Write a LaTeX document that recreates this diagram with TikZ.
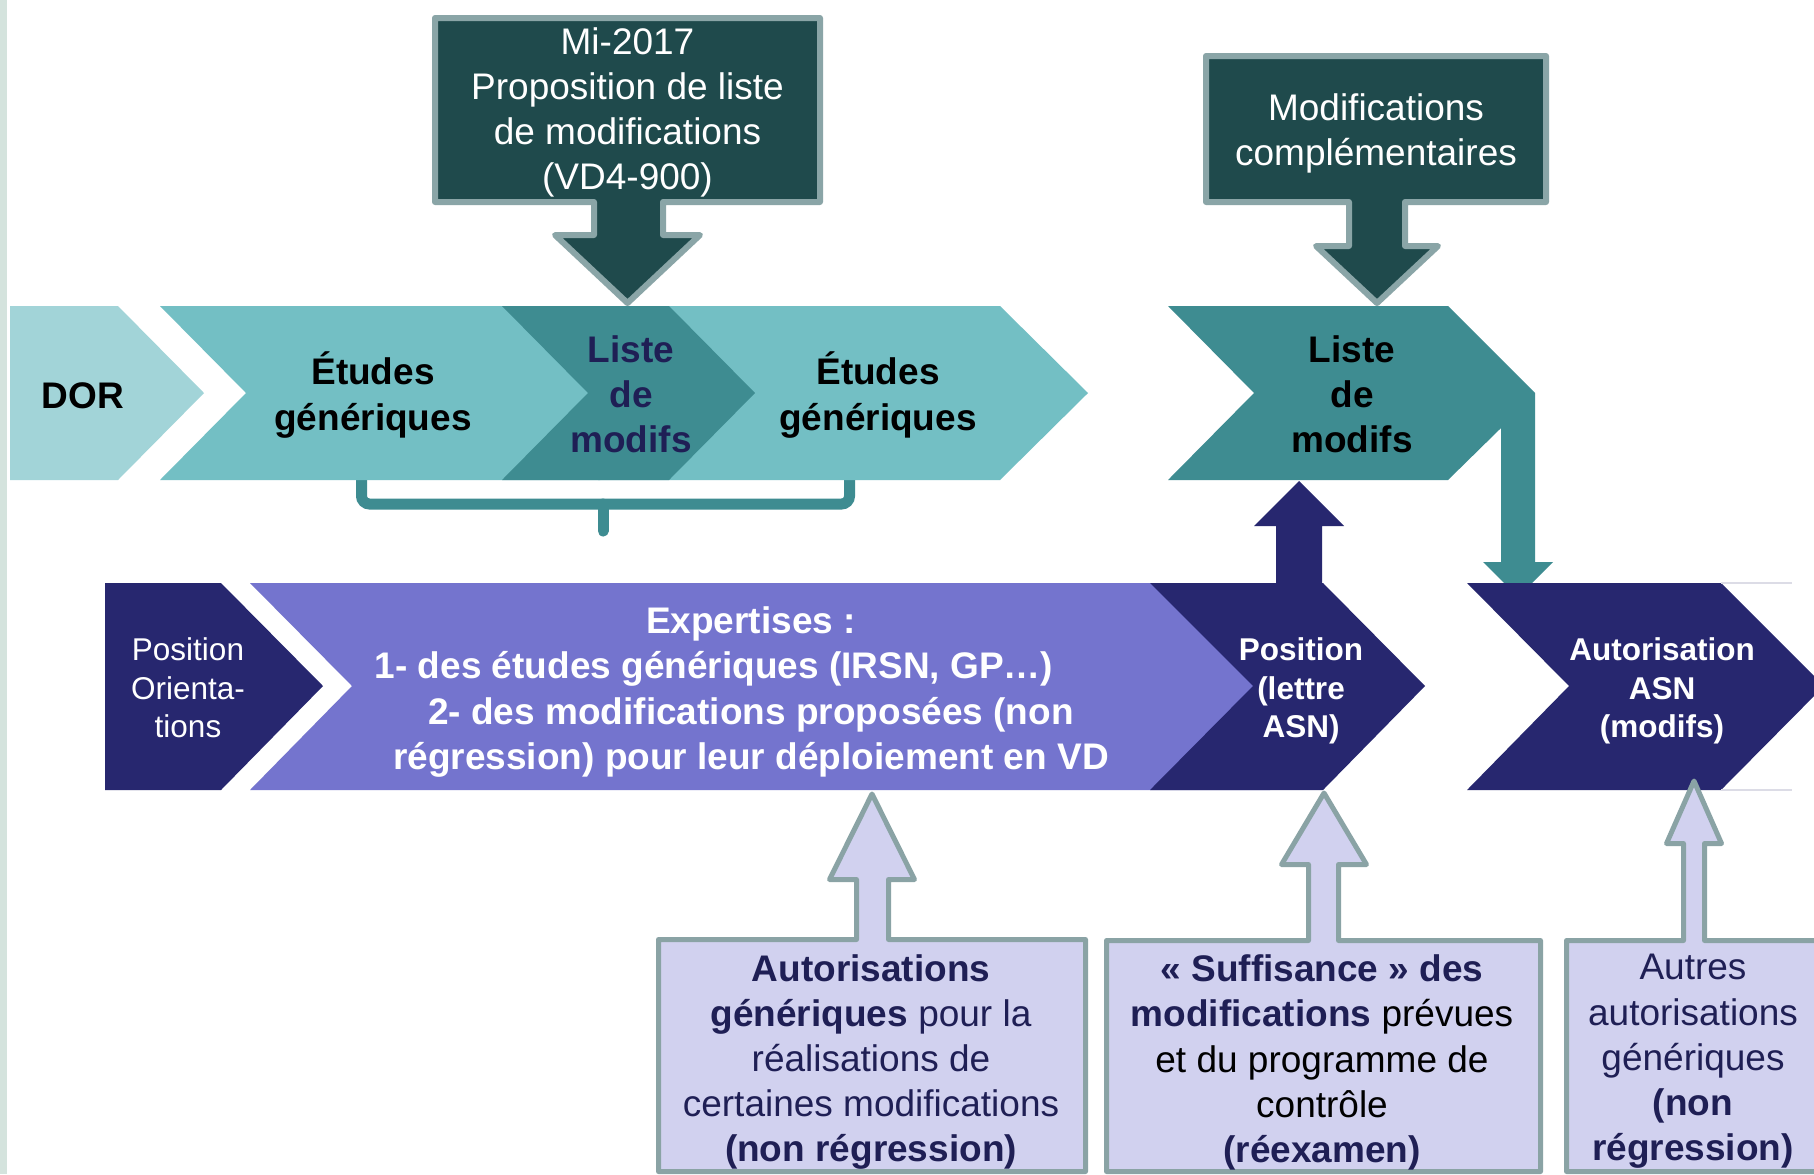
\documentclass[tikz,border=0pt]{standalone}
\usepackage{fontspec}
\setmainfont{Liberation Sans}
\definecolor{cdor}{HTML}{A2D4D8}
\definecolor{cetu}{HTML}{73BFC4}
\definecolor{clst}{HTML}{3E8C91}
\definecolor{cdk}{HTML}{1F4A4C}
\definecolor{cdkb}{HTML}{8AA5A7}
\definecolor{cnavy}{HTML}{27276F}
\definecolor{cpurp}{HTML}{7474CE}
\definecolor{clav}{HTML}{D1D1EF}
\definecolor{clavb}{HTML}{8AA3A5}
\definecolor{ctnavy}{HTML}{1F1F55}
\definecolor{cstrip}{HTML}{D4E3DD}
\definecolor{cfaint}{HTML}{DCDCE6}
\tikzset{
  txt/.style={align=center, inner sep=0pt, font=\fontsize{18.5}{22.6}\selectfont},
  txtb/.style={align=center, inner sep=0pt, font=\fontsize{18.5}{22.6}\selectfont\bfseries},
  txts/.style={align=center, inner sep=0pt, font=\fontsize{15.75}{19.25}\selectfont},
  txtsb/.style={align=center, inner sep=0pt, font=\fontsize{15.75}{19.25}\selectfont\bfseries},
  darkbox/.style={fill=cdk, draw=cdkb, line width=3pt, line join=round},
  lavbox/.style={fill=clav, draw=clavb, line width=2.5pt, line join=round},
}
\begin{document}
\begin{tikzpicture}[x=0.5pt,y=-0.5pt]
\useasboundingbox (0,0) rectangle (1814,1174);
\clip (0,0) rectangle (1814,1174);
\fill[white] (0,0) rectangle (1814,1174);
\fill[cstrip] (0,0) rectangle (7,1174);

% bracket
\draw[clst, line width=5.5pt, rounded corners=4pt] (361.5,470) -- (361.5,504) -- (849.5,504) -- (849.5,470);
\draw[clst, line width=5.5pt, line cap=round] (603,504) -- (603,531);

% top row chevrons
\fill[cdor] (10,306) -- (118,306) -- (204,393) -- (118,480) -- (10,480) -- cycle;
\fill[cetu] (160,306) -- (600,306) -- (600,480) -- (160,480) -- (246,393) -- cycle;
\fill[cetu] (598,306) -- (1000,306) -- (1088,393) -- (1000,480) -- (598,480) -- cycle;
\fill[clst] (502,306) -- (669,306) -- (755,393) -- (669,480) -- (502,480) -- (588,393) -- cycle;
\fill[clst] (1168,306) -- (1448,306) -- (1535,393) -- (1535,562) -- (1553,562) -- (1518,597)
  -- (1483,562) -- (1501,562) -- (1501,428) -- (1448,480) -- (1168,480) -- (1254,393) -- cycle;

% top boxes with arrows
\path[darkbox] (435,18) -- (820,18) -- (820,202) -- (663,202) -- (663,235) -- (700,235) -- (627.5,303)
  -- (555,235) -- (594,235) -- (594,202) -- (435,202) -- cycle;
\path[darkbox] (1206,56) -- (1546,56) -- (1546,202) -- (1405,202) -- (1405,246) -- (1438,246) -- (1377,303)
  -- (1316,246) -- (1349,246) -- (1349,202) -- (1206,202) -- cycle;

% bottom row chevrons
\fill[cnavy] (1276,590) -- (1276,526) -- (1254,526) -- (1299,481) -- (1344,526) -- (1322,526) -- (1322,590) -- cycle;
\fill[cnavy] (105,583) -- (221,583) -- (323,686) -- (221,790) -- (105,790) -- cycle;
\fill[cpurp] (250,583) -- (1270,583) -- (1270,790) -- (250,790) -- (352,686) -- cycle;
\fill[cnavy] (1150,583) -- (1323,583) -- (1425,686) -- (1323,790) -- (1150,790) -- (1253,686) -- cycle;
\fill[cnavy] (1467,583) -- (1721,583) -- (1824,686) -- (1721,790) -- (1467,790) -- (1569,686) -- cycle;
\draw[cfaint, line width=0.8pt] (1721,583) -- (1792,583) (1721,790) -- (1792,790);

% bottom boxes with arrows
\path[lavbox] (658.5,939.5) -- (856.5,939.5) -- (856.5,879.5) -- (829.5,879.5) -- (872,794) -- (914.5,879.5)
  -- (888.5,879.5) -- (888.5,939.5) -- (1085.5,939.5) -- (1085.5,1171.5) -- (658.5,1171.5) -- cycle;
\path[lavbox] (1106.5,940.5) -- (1308.5,940.5) -- (1308.5,864.5) -- (1281.5,864.5) -- (1324,793) -- (1366.5,864.5)
  -- (1338.5,864.5) -- (1338.5,940.5) -- (1540.5,940.5) -- (1540.5,1171.5) -- (1106.5,1171.5) -- cycle;
\path[lavbox] (1566.5,940.5) -- (1683.5,940.5) -- (1683.5,843.5) -- (1666.5,843.5) -- (1694,781) -- (1721.5,843.5)
  -- (1704.5,843.5) -- (1704.5,940.5) -- (1830,940.5) -- (1830,1171.5) -- (1566.5,1171.5) -- cycle;

% texts
\node[txt, text=white] (t1) at (627.5,112.5) {Mi-2017\\Proposition de liste\\de modifications\\(VD4-900)};
\node[txt, text=white] (t2) at (1376,133.5) {Modifications\\complémentaires};
\node[txtb] (dor) at (83,395.5) {DOR};
\node[txtb] (e1) at (373,395) {Études\\génériques};
\node[txtb, text=ctnavy] (l1) at (631,394) {Liste\\de\\modifs};
\node[txtb] (e2) at (878,395) {Études\\génériques};
\node[txtb] (l2) at (1352,394) {Liste\\de\\modifs};
\node[txts, text=white] (po) at (188,688) {Position\\Orienta-\\tions};
\node[txtb, text=white] (ex) at (751,692) {Expertises :\\1- des études génériques (IRSN, GP…)\hspace{37pt}\mbox{}\\2- des modifications proposées (non\\régression) pour leur déploiement en VD};
\node[txtsb, text=white] (pl) at (1301,691) {Position\\(lettre\\ASN)};
\node[txtsb, text=white] (aa) at (1662,691) {Autorisation\\ASN\\(modifs)};
\node[txt, text=ctnavy] (ba) at (871,1062) {\textbf{Autorisations}\\\textbf{génériques} pour la\\réalisations de\\certaines modifications\\\textbf{(non régression)}};
\node[txt, text=black] (bb) at (1322,1062.5) {\textcolor{ctnavy}{\bfseries « Suffisance » des}\\\textcolor{ctnavy}{\bfseries modifications} prévues\\et du programme de\\contrôle\\\textcolor{ctnavy}{\bfseries (réexamen)}};
\node[txt, text=ctnavy] (bc) at (1693,1061.5) {Autres\\autorisations\\génériques\\\textbf{(non}\\\textbf{régression)}};
\end{tikzpicture}
\end{document}
